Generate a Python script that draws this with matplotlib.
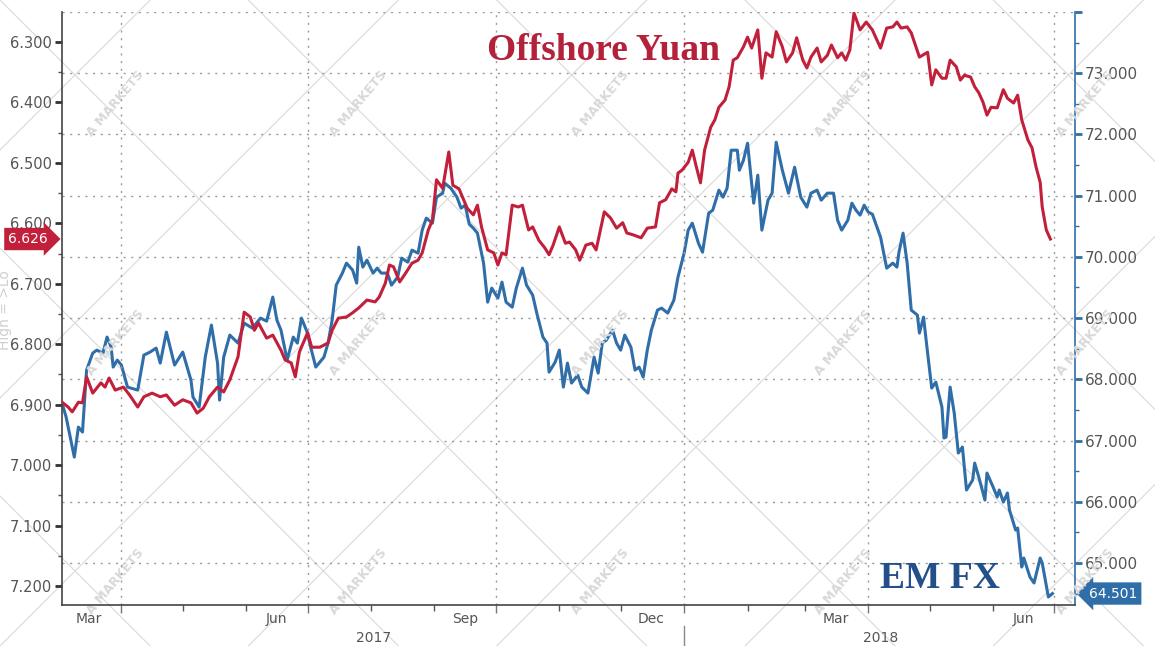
import matplotlib
matplotlib.use("Agg")
import matplotlib.pyplot as plt
import matplotlib.dates as mdates
import matplotlib.ticker as mticker
from matplotlib.lines import Line2D
import pandas as pd
import numpy as np

# Offshore yuan (USDCNH), left axis, inverted
cnh_dates = [
    "2017-03-03", "2017-03-06", "2017-03-08", "2017-03-11", "2017-03-13", "2017-03-15", "2017-03-18",
    "2017-03-22", "2017-03-24", "2017-03-26", "2017-03-29", "2017-04-02", "2017-04-05", "2017-04-09",
    "2017-04-12", "2017-04-16", "2017-04-20", "2017-04-23", "2017-04-27", "2017-05-01", "2017-05-05",
    "2017-05-08", "2017-05-11", "2017-05-14", "2017-05-18", "2017-05-21", "2017-05-24", "2017-05-28",
    "2017-05-31", "2017-06-03", "2017-06-05", "2017-06-07", "2017-06-11", "2017-06-14", "2017-06-18",
    "2017-06-20", "2017-06-23", "2017-06-25", "2017-06-27", "2017-07-01", "2017-07-03", "2017-07-07",
    "2017-07-11", "2017-07-13", "2017-07-16", "2017-07-20", "2017-07-23", "2017-07-26", "2017-07-30",
    "2017-08-03", "2017-08-05", "2017-08-08", "2017-08-10", "2017-08-12", "2017-08-15", "2017-08-18",
    "2017-08-21", "2017-08-24", "2017-08-26", "2017-08-29", "2017-08-31", "2017-09-02", "2017-09-05",
    "2017-09-08", "2017-09-10", "2017-09-13", "2017-09-17", "2017-09-20", "2017-09-22", "2017-09-24",
    "2017-09-27", "2017-09-30", "2017-10-02", "2017-10-04", "2017-10-06", "2017-10-09", "2017-10-12",
    "2017-10-14", "2017-10-17", "2017-10-19", "2017-10-22", "2017-10-25", "2017-10-27", "2017-10-29",
    "2017-11-01", "2017-11-04", "2017-11-06", "2017-11-09", "2017-11-11", "2017-11-14", "2017-11-17",
    "2017-11-19", "2017-11-23", "2017-11-26", "2017-11-29", "2017-12-02", "2017-12-04", "2017-12-07",
    "2017-12-11", "2017-12-14", "2017-12-18", "2017-12-20", "2017-12-23", "2017-12-26", "2017-12-28",
    "2017-12-29", "2017-12-31", "2018-01-03", "2018-01-05", "2018-01-07", "2018-01-09", "2018-01-11",
    "2018-01-14", "2018-01-16", "2018-01-18", "2018-01-21", "2018-01-23", "2018-01-25", "2018-01-27",
    "2018-01-30", "2018-02-01", "2018-02-03", "2018-02-06", "2018-02-08", "2018-02-10", "2018-02-13",
    "2018-02-15", "2018-02-18", "2018-02-20", "2018-02-23", "2018-02-25", "2018-02-28", "2018-03-02",
    "2018-03-04", "2018-03-07", "2018-03-09", "2018-03-12", "2018-03-14", "2018-03-17", "2018-03-19",
    "2018-03-21", "2018-03-23", "2018-03-25", "2018-03-28", "2018-03-31", "2018-04-03", "2018-04-07",
    "2018-04-10", "2018-04-13", "2018-04-15", "2018-04-17", "2018-04-20", "2018-04-22", "2018-04-24",
    "2018-04-26", "2018-04-30", "2018-05-02", "2018-05-04", "2018-05-07", "2018-05-09", "2018-05-11",
    "2018-05-14", "2018-05-16", "2018-05-18", "2018-05-21", "2018-05-23", "2018-05-25", "2018-05-27",
    "2018-05-29", "2018-05-31", "2018-06-03", "2018-06-06", "2018-06-08", "2018-06-11", "2018-06-13",
    "2018-06-15", "2018-06-18", "2018-06-20", "2018-06-22", "2018-06-24", "2018-06-25", "2018-06-27",
    "2018-06-29",
]
cnh_values = [
    6.896, 6.904, 6.912, 6.896, 6.897, 6.854, 6.881,
    6.864, 6.871, 6.856, 6.876, 6.871, 6.884, 6.904,
    6.887, 6.881, 6.887, 6.884, 6.901, 6.892, 6.897,
    6.914, 6.906, 6.887, 6.871, 6.879, 6.859, 6.821,
    6.747, 6.755, 6.777, 6.765, 6.790, 6.785, 6.810,
    6.826, 6.831, 6.854, 6.813, 6.781, 6.805, 6.805,
    6.798, 6.777, 6.757, 6.755, 6.748, 6.740, 6.727,
    6.730, 6.722, 6.699, 6.669, 6.672, 6.697, 6.682,
    6.666, 6.661, 6.649, 6.611, 6.595, 6.528, 6.542,
    6.482, 6.537, 6.543, 6.575, 6.586, 6.570, 6.606,
    6.644, 6.649, 6.669, 6.649, 6.652, 6.570, 6.573,
    6.570, 6.611, 6.606, 6.628, 6.641, 6.652, 6.636,
    6.606, 6.633, 6.631, 6.644, 6.661, 6.636, 6.633,
    6.644, 6.581, 6.591, 6.608, 6.599, 6.616, 6.619,
    6.624, 6.608, 6.606, 6.566, 6.561, 6.543, 6.548,
    6.517, 6.512, 6.499, 6.479, 6.507, 6.533, 6.479,
    6.441, 6.429, 6.408, 6.396, 6.374, 6.330, 6.326,
    6.308, 6.292, 6.310, 6.280, 6.360, 6.318, 6.325,
    6.283, 6.308, 6.333, 6.318, 6.293, 6.330, 6.343,
    6.325, 6.310, 6.333, 6.322, 6.305, 6.326, 6.318,
    6.330, 6.313, 6.252, 6.280, 6.267, 6.280, 6.310,
    6.277, 6.275, 6.267, 6.277, 6.275, 6.285, 6.305,
    6.325, 6.317, 6.371, 6.346, 6.360, 6.360, 6.330,
    6.341, 6.363, 6.355, 6.358, 6.374, 6.384, 6.399,
    6.421, 6.408, 6.409, 6.379, 6.393, 6.401, 6.388,
    6.429, 6.462, 6.475, 6.507, 6.532, 6.573, 6.611,
    6.626,
]

# EM FX index, right axis
em_dates = [
    "2017-03-03", "2017-03-05", "2017-03-07", "2017-03-09", "2017-03-11", "2017-03-13", "2017-03-15",
    "2017-03-18", "2017-03-20", "2017-03-23", "2017-03-25", "2017-03-27", "2017-03-28", "2017-03-30",
    "2017-04-01", "2017-04-04", "2017-04-09", "2017-04-12", "2017-04-15", "2017-04-18", "2017-04-20",
    "2017-04-23", "2017-04-27", "2017-05-01", "2017-05-05", "2017-05-06", "2017-05-09", "2017-05-12",
    "2017-05-15", "2017-05-18", "2017-05-19", "2017-05-21", "2017-05-24", "2017-05-28", "2017-05-31",
    "2017-06-04", "2017-06-08", "2017-06-11", "2017-06-14", "2017-06-16", "2017-06-18", "2017-06-21",
    "2017-06-24", "2017-06-26", "2017-06-28", "2017-07-01", "2017-07-02", "2017-07-05", "2017-07-09",
    "2017-07-11", "2017-07-13", "2017-07-15", "2017-07-18", "2017-07-20", "2017-07-23", "2017-07-25",
    "2017-07-26", "2017-07-28", "2017-07-30", "2017-08-02", "2017-08-04", "2017-08-06", "2017-08-09",
    "2017-08-11", "2017-08-14", "2017-08-16", "2017-08-19", "2017-08-21", "2017-08-24", "2017-08-26",
    "2017-08-28", "2017-08-31", "2017-09-02", "2017-09-05", "2017-09-06", "2017-09-09", "2017-09-12",
    "2017-09-14", "2017-09-16", "2017-09-18", "2017-09-20", "2017-09-22", "2017-09-25", "2017-09-27",
    "2017-09-29", "2017-10-02", "2017-10-04", "2017-10-06", "2017-10-09", "2017-10-11", "2017-10-14",
    "2017-10-16", "2017-10-19", "2017-10-21", "2017-10-24", "2017-10-26", "2017-10-27", "2017-10-30",
    "2017-11-01", "2017-11-03", "2017-11-05", "2017-11-07", "2017-11-10", "2017-11-12", "2017-11-15",
    "2017-11-18", "2017-11-20", "2017-11-22", "2017-11-24", "2017-11-27", "2017-11-29", "2017-12-01",
    "2017-12-03", "2017-12-06", "2017-12-08", "2017-12-10", "2017-12-12", "2017-12-14", "2017-12-16",
    "2017-12-19", "2017-12-21", "2017-12-24", "2017-12-27", "2017-12-29", "2018-01-01", "2018-01-03",
    "2018-01-05", "2018-01-08", "2018-01-10", "2018-01-13", "2018-01-15", "2018-01-18", "2018-01-20",
    "2018-01-22", "2018-01-24", "2018-01-27", "2018-01-28", "2018-01-30", "2018-02-01", "2018-02-04",
    "2018-02-06", "2018-02-08", "2018-02-11", "2018-02-13", "2018-02-15", "2018-02-18", "2018-02-21",
    "2018-02-24", "2018-02-27", "2018-03-02", "2018-03-04", "2018-03-07", "2018-03-09", "2018-03-12",
    "2018-03-15", "2018-03-17", "2018-03-19", "2018-03-22", "2018-03-24", "2018-03-26", "2018-03-28",
    "2018-03-30", "2018-04-01", "2018-04-03", "2018-04-07", "2018-04-10", "2018-04-13", "2018-04-15",
    "2018-04-16", "2018-04-18", "2018-04-20", "2018-04-22", "2018-04-25", "2018-04-26", "2018-04-28",
    "2018-04-30", "2018-05-02", "2018-05-04", "2018-05-07", "2018-05-08", "2018-05-09", "2018-05-11",
    "2018-05-13", "2018-05-15", "2018-05-17", "2018-05-19", "2018-05-22", "2018-05-23", "2018-05-25",
    "2018-05-28", "2018-05-29", "2018-06-01", "2018-06-03", "2018-06-04", "2018-06-06", "2018-06-08",
    "2018-06-09", "2018-06-12", "2018-06-13", "2018-06-15", "2018-06-16", "2018-06-19", "2018-06-21",
    "2018-06-24", "2018-06-25", "2018-06-28", "2018-06-30",
]
em_values = [
    67.612, 67.384, 67.057, 66.730, 67.220, 67.139, 68.151,
    68.428, 68.477, 68.428, 68.690, 68.526, 68.200, 68.314,
    68.233, 67.873, 67.824, 68.396, 68.445, 68.510, 68.265,
    68.771, 68.233, 68.445, 67.988, 67.710, 67.547, 68.363,
    68.886, 68.265, 67.661, 68.363, 68.722, 68.592, 68.918,
    68.837, 69.000, 68.951, 69.343, 68.967, 68.804, 68.314,
    68.690, 68.592, 69.000, 68.755, 68.592, 68.200, 68.363,
    68.592, 68.967, 69.539, 69.735, 69.898, 69.784, 69.571,
    70.159, 69.833, 69.947, 69.735, 69.816, 69.735, 69.735,
    69.539, 69.669, 69.980, 69.914, 70.110, 70.061, 70.437,
    70.633, 70.551, 70.975, 71.041, 71.204, 71.122, 70.975,
    70.796, 70.845, 70.535, 70.469, 70.388, 69.898, 69.261,
    69.490, 69.326, 69.588, 69.261, 69.179, 69.490, 69.816,
    69.539, 69.375, 69.082, 68.690, 68.592, 68.118, 68.282,
    68.477, 67.873, 68.265, 67.939, 68.069, 67.873, 67.775,
    68.363, 68.102, 68.592, 68.641, 68.804, 68.592, 68.477,
    68.722, 68.526, 68.151, 68.200, 68.037, 68.477, 68.804,
    69.131, 69.163, 69.082, 69.294, 69.669, 70.061, 70.437,
    70.551, 70.224, 70.077, 70.714, 70.763, 71.090, 70.975,
    71.122, 71.743, 71.743, 71.416, 71.580, 71.857, 70.877,
    71.335, 70.437, 70.926, 71.041, 71.873, 71.416, 71.041,
    71.465, 70.975, 70.812, 71.041, 71.090, 70.926, 71.041,
    71.041, 70.600, 70.437, 70.600, 70.877, 70.763, 70.682,
    70.845, 70.731, 70.698, 70.322, 69.816, 69.898, 69.833,
    70.077, 70.388, 69.898, 69.131, 69.049, 68.755, 69.016,
    68.428, 67.857, 67.955, 67.547, 67.041, 67.057, 67.873,
    67.449, 66.796, 66.894, 66.192, 66.355, 66.632, 66.404,
    66.028, 66.469, 66.241, 66.077, 66.192, 65.996, 66.143,
    65.865, 65.538, 65.571, 64.934, 65.081, 64.771, 64.673,
    65.081, 65.000, 64.445, 64.501,
]

cnh_ticks = [6.3, 6.4, 6.5, 6.6, 6.7, 6.8, 6.9, 7.0, 7.1, 7.2]
em_ticks = [65, 66, 67, 68, 69, 70, 71, 72, 73, 74]
quarter_starts = ["2017-04-01", "2017-07-01", "2017-10-01", "2018-01-01", "2018-04-01", "2018-07-01"]
month_labels = ["Mar", "Jun", "Sep", "Dec", "Mar", "Jun"]
month_label_dates = ["2017-03-16", "2017-06-16", "2017-09-16", "2017-12-16", "2018-03-16", "2018-06-16"]
year_labels = ["2017", "2018"]
year_label_dates = ["2017-08-02", "2018-04-07"]

RED = "#c21f3a"
BLUE = "#2f6ea8"
LBL = "#555555"

cnh = pd.Series(cnh_values, index=pd.to_datetime(cnh_dates))
em = pd.Series(em_values, index=pd.to_datetime(em_dates))

fig = plt.figure(figsize=(11.55, 6.46), dpi=100)
fig.patch.set_facecolor("white")

# watermark: faint diamond lattice and logos
for k in range(-6, 12):
    x0 = k * 0.215
    fig.add_artist(Line2D([x0, x0 + 0.56], [1.0, 0.0], color="#dddddd", lw=0.9, zorder=0))
    fig.add_artist(Line2D([x0, x0 + 0.56], [0.0, 1.0], color="#dddddd", lw=0.9, zorder=0))
for fx in [0.1, 0.31, 0.52, 0.73, 0.94]:
    for fy in [0.84, 0.47, 0.1]:
        fig.text(fx, fy, "A MARKETS", rotation=50, color="#d8d8d8", fontsize=9,
                 ha="center", va="center", fontweight="bold", zorder=0)

ax = fig.add_axes([0.0537, 0.0635, 0.877, 0.9179])
ax.patch.set_alpha(0)
ax2 = ax.twinx()
ax2.patch.set_alpha(0)

ax2.plot(em.index, em.values, color=BLUE, lw=2.2, zorder=3)
ax.plot(cnh.index, cnh.values, color=RED, lw=2.2, zorder=4)
ax.set_zorder(ax2.get_zorder() + 1)

xmin, xmax = pd.Timestamp("2017-03-03"), pd.Timestamp("2018-07-11")
ax.set_xlim(xmin, xmax)
ax.set_ylim(7.2315, 6.2504)
ax2.set_ylim(64.314, 73.996)

# left axis
ax.set_yticks(cnh_ticks)
ax.yaxis.set_major_formatter(mticker.FormatStrFormatter("%.3f"))
ax.yaxis.set_minor_locator(mticker.MultipleLocator(0.05))
ax.tick_params(axis="y", which="major", direction="out", length=5, width=2, color="#333333",
               labelsize=10.5, labelcolor=LBL, pad=2)
ax.tick_params(axis="y", which="minor", direction="out", length=3, width=1, color="#555555")

# right axis
ax2.set_yticks(em_ticks)
ax2.set_yticklabels([f"{v:.3f}" for v in em_ticks[:-1]] + [""])
ax2.yaxis.set_minor_locator(mticker.MultipleLocator(0.5))
ax2.tick_params(axis="y", which="major", direction="out", length=5, width=2, color=BLUE,
                labelsize=11, labelcolor=LBL, pad=2)
ax2.tick_params(axis="y", which="minor", direction="out", length=3, width=1, color=BLUE)
ax2.grid(axis="y", which="major", color="#9a9a9a", linestyle=(0, (1.5, 4)), lw=1.0)

# x axis
ax.set_xticks(pd.to_datetime(quarter_starts))
ax.set_xticklabels([""] * len(quarter_starts))
ax.xaxis.set_minor_locator(mdates.MonthLocator())
ax.tick_params(axis="x", which="major", direction="out", length=6, width=1, color="#777777")
ax.tick_params(axis="x", which="minor", direction="out", length=4, width=1, color="#555555")
ax.grid(axis="x", which="major", color="#9a9a9a", linestyle=(0, (1.5, 4)), lw=1.0)
ax2.tick_params(axis="x", which="both", length=0)

xt = ax.get_xaxis_transform()
for d, lab in zip(pd.to_datetime(month_label_dates), month_labels):
    ax.text(d, -0.023, lab, transform=xt, ha="center", va="center", fontsize=10, color=LBL)
for d, lab in zip(pd.to_datetime(year_label_dates), year_labels):
    ax.text(d, -0.055, lab, transform=xt, ha="center", va="center", fontsize=10, color=LBL)
ax.plot([pd.Timestamp("2018-01-01")] * 2, [-0.035, -0.07], transform=xt, color="#888888",
        lw=1, clip_on=False)

for a in (ax, ax2):
    a.spines["top"].set_visible(False)
ax.spines["left"].set_color("#444444")
ax.spines["left"].set_linewidth(1.2)
ax.spines["bottom"].set_color("#444444")
ax.spines["bottom"].set_linewidth(1.2)
ax.spines["right"].set_visible(False)
ax2.spines["left"].set_visible(False)
ax2.spines["bottom"].set_visible(False)
ax2.spines["right"].set_color(BLUE)
ax2.spines["right"].set_linewidth(1.2)

# faded axis title on the far left
fig.text(0.0045, 0.52, "High = >Lo", rotation=90, fontsize=10, color="#cfcfcf",
         ha="center", va="center", zorder=0)

# last value tags
ax.annotate(f"{cnh_values[-1]:.3f}", xy=(0, cnh_values[-1]), xycoords=("axes fraction", "data"),
            xytext=(-10, 0), textcoords="offset points", ha="right", va="center",
            fontsize=10, color="white", annotation_clip=False,
            bbox=dict(boxstyle="rarrow,pad=0.3", fc=RED, ec="none"))
ax2.annotate(f"{em_values[-1]:.3f}", xy=(1, em_values[-1]), xycoords=("axes fraction", "data"),
             xytext=(10, 0), textcoords="offset points", ha="left", va="center",
             fontsize=10, color="white", annotation_clip=False,
             bbox=dict(boxstyle="larrow,pad=0.3", fc=BLUE, ec="none"))

# series names
fig.text(0.5225, 0.922, "Offshore Yuan", fontsize=27, fontweight="bold", color="#b3213a",
         family="Liberation Serif", ha="center", va="center")
fig.text(0.814, 0.105, "EM FX", fontsize=27, fontweight="bold", color="#234f8a",
         family="Liberation Serif", ha="center", va="center")

fig.savefig("out.png", dpi=100, facecolor="white")
